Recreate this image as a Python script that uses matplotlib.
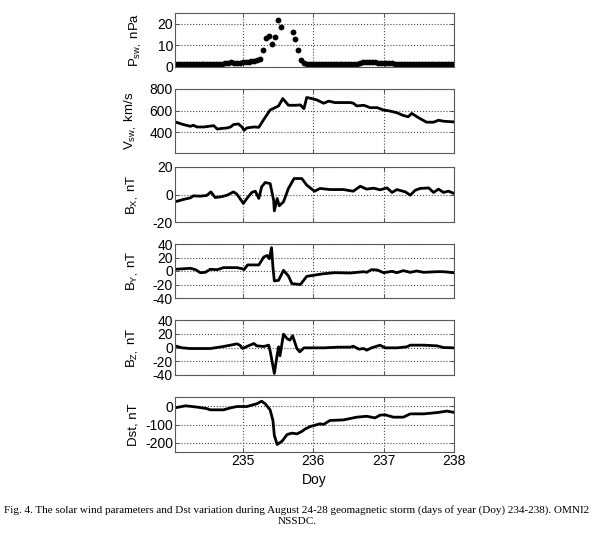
import numpy as np
import matplotlib
matplotlib.use('Agg')
import matplotlib.pyplot as plt

plt.rcParams['font.family'] = ['Liberation Sans', 'DejaVu Sans']
plt.rcParams['mathtext.fontset'] = 'custom'
plt.rcParams['mathtext.rm'] = 'Liberation Sans'
plt.rcParams['axes.unicode_minus'] = False

# ---- data (day of year, OMNI2 hourly) ----
# dynamic pressure, hourly points, hour 1..96 after doy 234
p_hours = np.arange(1, 97)
p_sw = [1.3, 1.3, 1.4, 1.3, 1.3, 1.4, 1.5, 1.4,
        1.3, 1.2, 1.2, 1.3, 1.4, 1.3, 1.2, 1.3,
        1.5, 1.8, 2.0, 2.1, 1.9, 1.8, 2.0, 2.2,
        2.3, 2.5, 2.6, 2.9, 3.2, 3.5, 7.8, 13.6,
        14.5, 10.5, 13.75, 21.9, 18.4, np.nan, np.nan, np.nan,
        16.1, 13.0, 7.8, 3.1, 1.9, 1.6, 1.4, 1.3,
        1.3, 1.2, 1.2, 1.2, 1.3, 1.2, 1.2, 1.3,
        1.2, 1.2, 1.3, 1.3, 1.4, 1.5, 1.6, 1.9,
        2.2, 2.3, 2.2, 2.1, 2.1, 2.0, 1.9, 1.8,
        1.9, 1.7, 1.7, 1.6, 1.6, 1.5, 1.5, 1.4,
        1.4, 1.3, 1.3, 1.3, 1.3, 1.2, 1.2, 1.2,
        1.2, 1.2, 1.2, 1.3, 1.2, 1.2, 1.2, 1.2]

t_v = [234.04, 234.16, 234.26, 234.30, 234.35, 234.45, 234.52, 234.59, 234.64, 234.71,
       234.78, 234.83, 234.87, 234.94, 234.99, 235.02, 235.06, 235.16, 235.23, 235.30,
       235.39, 235.46, 235.51, 235.57, 235.65, 235.75, 235.82, 235.87, 235.91, 235.98,
       236.05, 236.15, 236.22, 236.31, 236.43, 236.53, 236.57, 236.62, 236.72, 236.81,
       236.91, 237.00, 237.09, 237.19, 237.28, 237.35, 237.40, 237.50, 237.61, 237.71,
       237.78, 237.85, 237.99]
v_sw = [497, 472, 456, 466, 450, 450, 456, 462, 431, 437,
        441, 450, 472, 478, 450, 419, 441, 450, 447, 519,
        606, 628, 644, 712, 650, 650, 653, 619, 722, 712,
        700, 669, 688, 675, 675, 675, 669, 644, 650, 628,
        628, 606, 597, 581, 556, 544, 575, 534, 494, 494,
        512, 503, 497]

t_bx = [234.04, 234.16, 234.26, 234.30, 234.40, 234.49, 234.55, 234.61, 234.71, 234.78,
        234.87, 234.92, 235.01, 235.06, 235.13, 235.18, 235.23, 235.27, 235.32, 235.39,
        235.44, 235.45, 235.49, 235.52, 235.58, 235.65, 235.73, 235.84, 235.91, 236.02,
        236.10, 236.24, 236.43, 236.57, 236.67, 236.76, 236.86, 236.95, 237.05, 237.12,
        237.19, 237.31, 237.38, 237.45, 237.52, 237.64, 237.71, 237.78, 237.85, 237.92,
        237.99]
bx = [-5.3, -3.6, -2.4, -1, -1.2, -0.7, 1.9, -2.2, -1.5, -0.5,
      1.9, 0.2, -6.5, -2.9, 1.5, 2.4, -2.9, 5.6, 8.7, 8,
      -4.1, -11.9, -2.9, -8.2, -5.3, 4.4, 11.6, 11.6, 6.8, 2.4,
      4.4, 3.6, 3.6, 2.4, 6, 3.9, 4.6, 3.4, 4.8, 1.5,
      3.6, 1.9, -0.5, 3.1, 4.4, 4.8, 1.5, 3.9, 1.5, 2.4,
      1]

t_by = [234.04, 234.26, 234.33, 234.40, 234.47, 234.54, 234.64, 234.73, 234.92, 234.99,
        235.02, 235.07, 235.23, 235.30, 235.35, 235.38, 235.41, 235.43, 235.45, 235.51,
        235.58, 235.65, 235.70, 235.82, 235.91, 236.15, 236.31, 236.53, 236.72, 236.76,
        236.83, 236.91, 237.00, 237.12, 237.19, 237.28, 237.38, 237.47, 237.57, 237.76,
        237.85, 237.99]
by = [2.5, 4, 2, -2.5, -2, 2.5, 2, 5, 5, 3.5,
      2, 9, 9, 20.7, 23, 18, 34.6, 6, -14.8, -13.8,
      1, -7.4, -18.8, -20, -7.9, -4, -2.5, -3, -1, -2,
      2, 1.5, -2.5, -0.5, -2.5, 0.5, -2, 0, -2, -1,
      -1, -2.5]

t_bz = [234.04, 234.14, 234.26, 234.54, 234.73, 234.92, 234.96, 235.00, 235.06, 235.16,
        235.20, 235.30, 235.37, 235.39, 235.45, 235.49, 235.51, 235.53, 235.58, 235.63,
        235.67, 235.71, 235.77, 235.81, 235.87, 236.15, 236.36, 236.53, 236.57, 236.65,
        236.72, 236.76, 236.83, 236.95, 237.02, 237.19, 237.33, 237.38, 237.57, 237.76,
        237.85, 237.99]
bz = [2.4, -0.5, -1.5, -1.5, 1.5, 5.3, 3.4, -1.5, 1.5, 5.8,
      2.4, 1.5, 3.4, -4.8, -37.8, -11, 1, -12, 19.4, 13,
      10.7, 17, -1.5, -6.3, -0.5, -0.5, 0.5, 0.5, 1.9, -2.4,
      -1.5, -3.9, -0.5, 3.4, -0.5, -0.5, 1, 3.4, 3.4, 2.4,
      0, -0.5]

t_dst = [234.04, 234.19, 234.35, 234.49, 234.54, 234.73, 234.83, 234.92, 235.06, 235.20,
         235.27, 235.32, 235.39, 235.43, 235.45, 235.49, 235.56, 235.63, 235.70, 235.77,
         235.84, 235.89, 235.96, 236.10, 236.15, 236.20, 236.24, 236.43, 236.62, 236.76,
         236.88, 236.95, 237.02, 237.14, 237.28, 237.38, 237.57, 237.76, 237.90, 237.99]
dst = [-9, 2, -5, -13, -20, -20, -9, -2, -2, 13,
       27, 13, -20, -78, -160, -209, -191, -155, -147, -151,
       -138, -124, -111, -96, -100, -87, -78, -75, -60, -55,
       -64, -49, -47, -60, -60, -42, -42, -35, -27, -33]

ylabels = [r'P$_{\mathregular{sw,}}$ nPa', r'V$_{\mathregular{sw,}}$ km/s',
           r'B$_{\mathregular{X,}}$ nT', r'B$_{\mathregular{Y,}}$ nT',
           r'B$_{\mathregular{Z,}}$ nT', 'Dst, nT']
ylims = [(0, 25), (210, 800), (-20, 20), (-40, 40), (-40, 40), (-250, 50)]
yticks = [[0, 10, 20], [400, 600, 800], [-20, 0, 20],
          [-40, -20, 0, 20, 40], [-40, -20, 0, 20, 40], [-200, -100, 0]]
xticks = [235, 236, 237, 238]

# ---- layout (pixels of the 594x533 picture) ----
W, H = 594.0, 533.0
left_px, right_px = 175, 454
panels_px = [(13, 67), (89, 153), (167, 222), (244, 298), (320, 375), (397, 452)]
label_x = [-0.111, -0.129, -0.122, -0.122, -0.122, -0.129]

fig = plt.figure(figsize=(5.94, 5.33), dpi=100)
axes = []
for (top, bot) in panels_px:
    ax = fig.add_axes([left_px / W, 1 - bot / H, (right_px - left_px) / W, (bot - top) / H])
    axes.append(ax)

axes[0].plot(234 + p_hours / 24.0, p_sw, 'o', color='k', markersize=4.2, markeredgewidth=0)
axes[1].plot(t_v, v_sw, color='k', lw=2)
axes[2].plot(t_bx, bx, color='k', lw=2)
axes[3].plot(t_by, by, color='k', lw=2)
axes[4].plot(t_bz, bz, color='k', lw=2)
axes[5].plot(t_dst, dst, color='k', lw=2)

for i, ax in enumerate(axes):
    ax.set_xlim(234.04, 238)
    ax.set_ylim(*ylims[i])
    ax.set_yticks(yticks[i])
    ax.set_xticks(xticks)
    ax.grid(True, linestyle=':', color='0.3', linewidth=0.8)
    ax.tick_params(direction='in', length=3, width=0.6, labelsize=10, pad=1.5,
                   top=True, right=True, colors='0.25', labelcolor='k')
    for s in ax.spines.values():
        s.set_color('0.35')
        s.set_linewidth(0.8)
    ax.set_ylabel(ylabels[i], fontsize=9.5)
    ax.yaxis.set_label_coords(label_x[i], 0.5)
    if i < 5:
        ax.set_xticklabels([])

axes[5].set_xlabel('Doy', fontsize=10)
axes[5].xaxis.set_label_coords(0.5, -0.38)

cap = ('Fig. 4. The solar wind parameters and Dst variation during August 24-28 geomagnetic '
       'storm (days of year (Doy) 234-238). OMNI2')
fig.text(0.5, 1 - 510 / H, cap, ha='center', va='center', fontsize=8.0,
         family=['Liberation Serif', 'DejaVu Serif'])
fig.text(0.5, 1 - 522 / H, 'NSSDC.', ha='center', va='center', fontsize=8.0,
         family=['Liberation Serif', 'DejaVu Serif'])

fig.savefig('out.png', dpi=100)
